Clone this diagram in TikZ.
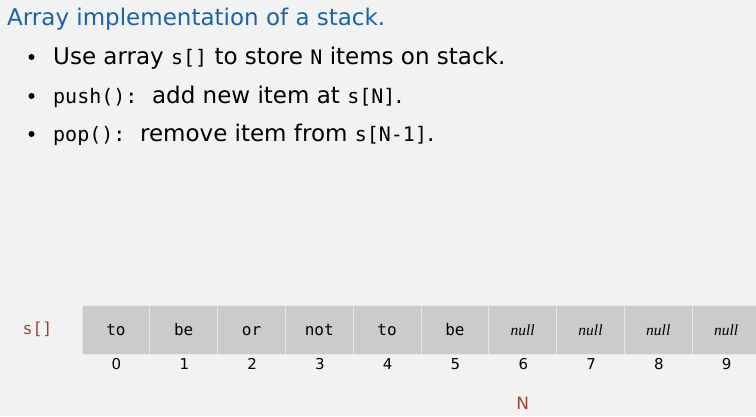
\documentclass[tikz,border=0pt]{standalone}
\usepackage{fontspec}
\setmainfont{DejaVu Sans}
\setmonofont{DejaVu Sans Mono}
\newfontfamily\nullserif{Liberation Serif}
\usepackage{tikz}
\usetikzlibrary{shapes,decorations}
\usetikzlibrary{arrows.meta, positioning}

\definecolor{bgcolor}{RGB}{242,242,242}
\definecolor{titleblue}{RGB}{26,99,166}
\definecolor{cellgray}{RGB}{203,203,203}
\definecolor{sepgray}{RGB}{232,232,232}
\definecolor{varbrown}{RGB}{155,68,48}

\newcommand{\code}[1]{{\fontsize{20}{23}\selectfont\ttfamily #1}}
\newcommand{\nullval}{{\fontsize{15.5}{18}\selectfont\nullserif\itshape null}}

\tikzset{
    cell/.style={rectangle, fill=cellgray, draw=sepgray, line width=0.8pt,
        minimum width=67.8pt, minimum height=49pt, inner sep=0pt,
        text height=11pt, text depth=0pt,
        font=\fontsize{16}{18}\selectfont\ttfamily},
    idx/.style={inner sep=0pt, font=\fontsize{15}{17}\selectfont},
    bodyline/.style={anchor=base west, inner sep=0pt, font=\fontsize{23}{28}\selectfont},
    varlabel/.style={inner sep=0pt, text=varbrown}
}

\begin{document}
\begin{tikzpicture}[x=1pt, y=-1pt]
    % Page background
    \fill[bgcolor] (0,0) rectangle (756,416);
    \useasboundingbox (0,0) rectangle (756,416);

    % Title
    \node[bodyline, text=titleblue] (title) at (7,25) {Array implementation of a stack.};

    % Bullet points
    \fill (31.5,57) circle (3pt);
    \node[bodyline] (item1) at (53,64) {Use array \code{s[]} to store \code{N} items on stack.};
    \fill (31.5,96) circle (3pt);
    \node[bodyline] (item2) at (53,103) {\code{push():}\ \ add new item at \code{s[N]}.};
    \fill (31.5,134) circle (3pt);
    \node[bodyline] (item3) at (53,141) {\code{pop():}\ \ remove item from \code{s[N-1]}.};

    % Array name
    \node[varlabel, font=\fontsize{16.5}{20}\selectfont\ttfamily] (arr) at (37.5,329) {s[]};

    % Array cells
    \node[cell] (c0) at (115.9,329.5) {to};
    \node[cell] (c1) at (183.7,329.5) {be};
    \node[cell] (c2) at (251.5,329.5) {or};
    \node[cell] (c3) at (319.3,329.5) {not};
    \node[cell] (c4) at (387.1,329.5) {to};
    \node[cell] (c5) at (454.9,329.5) {be};
    \node[cell] (c6) at (522.7,329.5) {\nullval};
    \node[cell] (c7) at (590.5,329.5) {\nullval};
    \node[cell] (c8) at (658.3,329.5) {\nullval};
    \node[cell] (c9) at (726.1,329.5) {\nullval};

    % Indices
    \node[idx] (i0) at (116.5,364) {0};
    \node[idx] (i1) at (184.3,364) {1};
    \node[idx] (i2) at (252.1,364) {2};
    \node[idx] (i3) at (319.9,364) {3};
    \node[idx] (i4) at (387.7,364) {4};
    \node[idx] (i5) at (455.5,364) {5};
    \node[idx] (i6) at (523.3,364) {6};
    \node[idx] (i7) at (591.1,364) {7};
    \node[idx] (i8) at (658.9,364) {8};
    \node[idx] (i9) at (726.7,364) {9};

    % Stack size
    \node[varlabel, font=\fontsize{17}{20}\selectfont] (size) at (522.7,403.5) {N};
\end{tikzpicture}
\end{document}
